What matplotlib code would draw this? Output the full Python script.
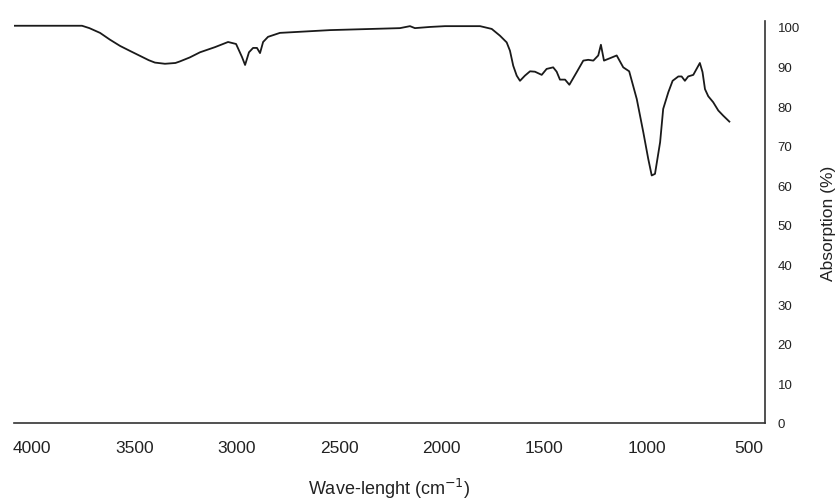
import matplotlib
matplotlib.use("Agg")
import matplotlib.pyplot as plt

plt.rcParams['font.family'] = ['Liberation Sans', 'DejaVu Sans']

wavenumber = [4088, 3756, 3720, 3668, 3620, 3570, 3520, 3473, 3430, 3400, 3351, 3300,
              3278, 3230, 3180, 3107, 3043, 3004,
              2975, 2960, 2941, 2921, 2902, 2887, 2872, 2848, 2790, 2545, 2204, 2155,
              2131, 2057, 1984, 1813, 1756, 1716, 1683, 1667, 1651, 1634, 1618, 1594,
              1569, 1545, 1512, 1488, 1456, 1439, 1423, 1398, 1377, 1341, 1309, 1285,
              1260, 1236, 1223, 1208, 1179, 1146, 1114, 1085, 1048, 1016, 992, 975,
              959, 934, 919, 894, 873, 845, 829, 813, 797, 772, 740, 727, 715, 699,
              675, 650, 626, 596]
absorption = [100.3, 100.3, 99.7, 98.5, 96.8, 95.2, 93.9, 92.7, 91.6, 91.0, 90.7, 90.9,
              91.3, 92.3, 93.6, 94.9, 96.2, 95.7,
              92.4, 90.4, 93.6, 94.7, 94.7, 93.4, 96.2, 97.5, 98.5, 99.2, 99.7, 100.2,
              99.7, 100.0, 100.2, 100.2, 99.5, 97.8, 96.1, 94.0, 90.2, 87.7, 86.4, 87.7,
              88.8, 88.7, 87.9, 89.4, 89.8, 88.7, 86.7, 86.7, 85.4, 88.6, 91.5, 91.7,
              91.5, 92.8, 95.5, 91.5, 92.1, 92.8, 89.8, 88.8, 81.8, 73.4, 66.7, 62.5,
              62.9, 70.9, 79.3, 83.5, 86.4, 87.5, 87.5, 86.4, 87.5, 87.9, 90.9, 88.6,
              84.3, 82.5, 81.0, 78.9, 77.6, 76.1]

x_ticks = [4000, 3500, 3000, 2500, 2000, 1500, 1000, 500]
y_ticks = [0, 10, 20, 30, 40, 50, 60, 70, 80, 90, 100]

fig = plt.figure(figsize=(8.4, 5.02), dpi=100)
ax = fig.add_axes([14 / 840, 1 - 424 / 502, (765 - 14) / 840, (424 - 22) / 502])

ax.plot(wavenumber, absorption, color='#1a1a1a', linewidth=1.3)

ax.set_xlim(4088, 422)
ax.set_ylim(0, 101.5)
ax.set_xticks(x_ticks)
ax.set_xticklabels([str(t) for t in x_ticks])
ax.set_yticks(y_ticks)
ax.set_yticklabels([str(t) for t in y_ticks])

ax.yaxis.tick_right()
ax.yaxis.set_label_position('right')
for s in ['top', 'left']:
    ax.spines[s].set_visible(False)
for s in ['bottom', 'right']:
    ax.spines[s].set_color('#333333')
    ax.spines[s].set_linewidth(1.2)

ax.tick_params(axis='x', length=0, pad=12, labelsize=12.5, labelcolor='#222222')
ax.tick_params(axis='y', length=0, pad=9, labelsize=9.5, labelcolor='#222222')

ax.set_xlabel('Wave-lenght (cm$^{-1}$)', fontsize=13, color='#222222', labelpad=15)
ax.set_ylabel('Absorption (%)', fontsize=12.5, color='#222222', labelpad=15)

fig.savefig('out.png', dpi=100)
